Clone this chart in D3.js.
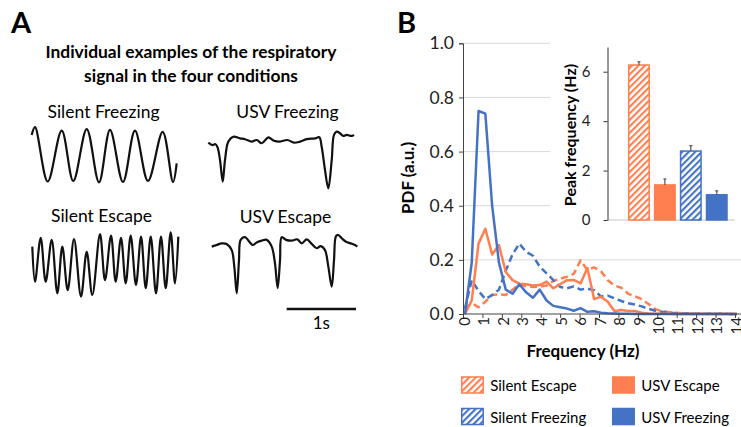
<!DOCTYPE html>
<html>
<head>
<meta charset="utf-8">
<script src="https://cdn.jsdelivr.net/npm/d3@7"></script>
<style>
body { margin: 0; background: #fff; }
svg { font-family: Lato, 'Open Sans', sans-serif; display: block; }
</style>
</head>
<body>
<div id="fig"></div>
<script>
// panel A: example respiratory traces, [time (s), amplitude (a.u.)]
const silentFreezingTrace = [[0,0.73],[0.048,1.02],[0.231,-0.99],[0.433,0.89],[0.6,-0.97],[0.794,0.95],[0.971,-1.02],[1.13,0.92],[1.317,-1.01],[1.49,0.89],[1.678,-0.97],[1.89,0.85],[2.039,-1.01],[2.092,-0.32]];
const usvFreezingTrace = [[0,-0.1],[0.063,-0.19],[0.097,-0.15],[0.13,-0.25],[0.169,-0.74],[0.208,-1.54],[0.241,-0.74],[0.289,-0.06],[0.361,0.12],[0.457,0.06],[0.53,0.03],[0.626,-0.06],[0.698,0],[0.771,-0.12],[0.866,0.1],[0.948,-0.03],[1.035,-0.06],[1.14,0],[1.237,-0.1],[1.323,-0.06],[1.42,0.03],[1.54,0.06],[1.602,0.1],[1.636,-0.25],[1.684,-1.11],[1.732,-1.79],[1.781,-0.74],[1.814,0.19],[1.853,0.31],[1.9,0.25],[1.948,0.15],[1.997,0.19],[2.069,0.15],[2.102,0.19]];
const silentEscapeTrace = [[0,0.68],[0.039,-0.62],[0.121,1.01],[0.193,-0.62],[0.28,0.93],[0.361,-1.05],[0.433,0.68],[0.511,-0.93],[0.602,0.96],[0.703,-1.17],[0.785,0.49],[0.866,-1.11],[0.977,1.14],[1.049,-0.56],[1.136,1.09],[1.203,-0.62],[1.28,1.01],[1.348,-0.68],[1.42,1.09],[1.496,-0.74],[1.569,1.05],[1.637,-0.86],[1.709,1.05],[1.785,-1.05],[1.857,1.05],[1.925,-0.86],[1.997,1.21],[2.059,-0.68],[2.107,1.05]];
const usvEscapeTrace = [[0,-0.06],[0.072,0],[0.144,0.06],[0.216,0.04],[0.289,-0.19],[0.326,-0.8],[0.361,-1.79],[0.394,-0.56],[0.418,0.19],[0.481,0.29],[0.543,0.12],[0.592,0],[0.649,0.09],[0.722,0.16],[0.794,0.19],[0.866,-0.06],[0.913,-0.68],[0.952,-1.6],[0.986,-0.56],[1.01,0.29],[1.072,0.19],[1.154,0.16],[1.235,0.21],[1.299,0.06],[1.371,0.21],[1.443,0.04],[1.515,-0.12],[1.573,-0.04],[1.635,-0.19],[1.683,-0.8],[1.732,-1.54],[1.765,-0.56],[1.794,0.33],[1.827,0.37],[1.876,0.25],[1.938,0.12],[2.006,0.06],[2.068,0],[2.101,-0.06]];

// panel B: PDF of respiratory frequency
const freqHz = [0.1,0.45,0.8,1.15,1.5,1.85,2.2,2.55,2.9,3.25,3.6,3.95,4.3,4.65,5.0,5.35,5.7,6.05,6.4,6.75,7.1,7.45,7.8,8.15,8.5,8.85,9.2,9.55,9.9,10.25,10.6,10.95,11.3,11.65,12.0,12.35,12.7,13.05,13.4,13.75,14.1];
const silentEscapePdf = [0.02,0.04,0.025,0.045,0.07,0.073,0.07,0.09,0.11,0.102,0.1,0.101,0.105,0.122,0.13,0.138,0.148,0.198,0.163,0.172,0.158,0.125,0.105,0.097,0.075,0.065,0.055,0.037,0.018,0.01,0.007,0.005,0.003,0.002,0.002,0.001,0.001,0.001,0.001,0,0];
const usvEscapePdf = [0,0.05,0.26,0.315,0.22,0.255,0.155,0.125,0.112,0.11,0.105,0.107,0.12,0.095,0.11,0.125,0.126,0.113,0.17,0.055,0.064,0.045,0.01,0.015,0.011,0.011,0.005,0.002,0.001,0.001,0.001,0,0,0,0,0,0,0,0,0,0];
const silentFreezingPdf = [0.02,0.125,0.085,0.055,0.07,0.09,0.16,0.22,0.26,0.23,0.215,0.175,0.15,0.125,0.1,0.095,0.102,0.09,0.094,0.088,0.065,0.068,0.058,0.048,0.04,0.035,0.028,0.019,0.012,0.008,0.005,0.003,0.002,0.002,0.001,0.001,0.001,0.001,0.001,0,0];
const usvFreezingPdf = [0,0.19,0.75,0.74,0.4,0.19,0.09,0.075,0.11,0.08,0.06,0.09,0.05,0.03,0.025,0.02,0.012,0.022,0.008,0.01,0.005,0.003,0.002,0.001,0.001,0,0,0,0,0,0,0,0,0,0,0,0,0,0,0,0];
const freqTicks = [0,1,2,3,4,5,6,7,8,9,10,11,12,13,14];
const pdfTicks = [0,0.2,0.4,0.6,0.8,1.0];

// inset: peak frequency per condition
const conditions = ['Silent Escape', 'USV Escape', 'Silent Freezing', 'USV Freezing'];
const peakFreq = [6.27, 1.42, 2.79, 1.02];
const peakSem = [0.13, 0.24, 0.22, 0.16];
const peakTicks = [0, 2, 4, 6];

const orange = '#FF7F50';
const blue = '#4472C4';
const condColor = [orange, orange, blue, blue];
const condHatch = [true, false, true, false];

const w = 741, h = 427;
const svg = d3.select('#fig').append('svg').attr('width', w).attr('height', h);

const defs = svg.append('defs');
[['hatchOrange', orange], ['hatchBlue', blue]].forEach(([id, c]) => {
    const p = defs.append('pattern').attr('id', id).attr('patternUnits', 'userSpaceOnUse')
        .attr('width', 4.6).attr('height', 4.6).attr('patternTransform', 'rotate(45)');
    p.append('rect').attr('width', 4.6).attr('height', 4.6).attr('fill', '#fff');
    p.append('rect').attr('width', 2.1).attr('height', 4.6).attr('fill', c);
});
const fillOf = i => condHatch[i] ? (condColor[i] === orange ? 'url(#hatchOrange)' : 'url(#hatchBlue)') : condColor[i];

// panel letters
svg.append('text').attr('x', 11).attr('y', 33).text('A').attr('font-size', 29).attr('font-weight', 'bold');
svg.append('text').attr('x', 397).attr('y', 33).text('B').attr('font-size', 29).attr('font-weight', 'bold');

// ---------- panel A ----------
svg.append('text').attr('x', 191).attr('y', 58).attr('text-anchor', 'middle')
    .attr('font-size', 17.4).attr('font-weight', 'bold').text('Individual examples of the respiratory');
svg.append('text').attr('x', 191).attr('y', 82).attr('text-anchor', 'middle')
    .attr('font-size', 17.4).attr('font-weight', 'bold').text('signal in the four conditions');

const pxPerSec = 69.3, pxPerAu = 27;
const traces = [
    { name: 'Silent Freezing', data: silentFreezingTrace, x0: 31.7, y0: 154.75, lx: 103.5, ly: 118 },
    { name: 'USV Freezing', data: usvFreezingTrace, x0: 208.3, y0: 140, lx: 287.5, ly: 118 },
    { name: 'Silent Escape', data: silentEscapeTrace, x0: 32.3, y0: 265, lx: 101.5, ly: 222 },
    { name: 'USV Escape', data: usvEscapeTrace, x0: 211.7, y0: 245, lx: 285.5, ly: 223 }
];
traces.forEach(tr => {
    const tx = d3.scaleLinear().domain([0, 1]).range([tr.x0, tr.x0 + pxPerSec]);
    const ty = d3.scaleLinear().domain([0, 1]).range([tr.y0, tr.y0 - pxPerAu]);
    svg.append('path').datum(tr.data)
        .attr('d', d3.line().x(d => tx(d[0])).y(d => ty(d[1])).curve(d3.curveCatmullRom.alpha(0.5)))
        .attr('fill', 'none').attr('stroke', '#111').attr('stroke-width', 2.2).attr('stroke-linejoin', 'round');
    svg.append('text').attr('x', tr.lx).attr('y', tr.ly).attr('text-anchor', 'middle')
        .attr('font-size', 17.5).text(tr.name);
});

// 1 s scale bar
const barScale = d3.scaleLinear().domain([0, 1]).range([286.7, 286.7 + pxPerSec]);
svg.append('line').attr('x1', barScale(0)).attr('x2', barScale(1)).attr('y1', 309).attr('y2', 309)
    .attr('stroke', '#111').attr('stroke-width', 2.4);
svg.append('text').attr('x', barScale(0.5)).attr('y', 329).attr('text-anchor', 'middle')
    .attr('font-size', 17).text('1s');

// ---------- panel B ----------
const x = d3.scaleLinear().domain([0, 14]).range([463, 735]);
const y = d3.scaleLinear().domain([0, 1]).range([314, 43.3]);

svg.append('g').selectAll('line').data(pdfTicks.filter(d => d > 0)).enter().append('line')
    .attr('x1', 463).attr('x2', w).attr('y1', d => y(d)).attr('y2', d => y(d))
    .attr('stroke', '#d9d9d9').attr('stroke-width', 1);

const series = [
    { values: silentEscapePdf, color: orange, dash: '7,4' },
    { values: silentFreezingPdf, color: blue, dash: '7,4' },
    { values: usvEscapePdf, color: orange, dash: null },
    { values: usvFreezingPdf, color: blue, dash: null }
];
const pdfLine = d3.line().x((d, i) => x(freqHz[i])).y(d => y(d));
series.forEach(s => {
    svg.append('path').datum(s.values).attr('d', pdfLine)
        .attr('fill', 'none').attr('stroke', s.color).attr('stroke-width', 2.5)
        .attr('stroke-dasharray', s.dash).attr('stroke-linejoin', 'round');
});

const yAxis = svg.append('g').attr('transform', 'translate(463,0)')
    .call(d3.axisLeft(y).tickValues(pdfTicks).tickFormat(d3.format('.1f')).tickSize(4).tickPadding(5));
yAxis.selectAll('text').attr('font-size', 17.5).attr('fill', '#222').attr('font-family', 'Lato, sans-serif');
yAxis.selectAll('line, path').attr('stroke', '#444');

const xAxis = svg.append('g').attr('transform', 'translate(0,314)')
    .call(d3.axisBottom(x).tickValues(freqTicks).tickSize(4));
xAxis.select('path').attr('d', `M463,0H${w}`).attr('stroke', '#444');
xAxis.selectAll('line').attr('stroke', '#444');
xAxis.selectAll('text').attr('font-size', 15).attr('fill', '#222').attr('font-family', 'Lato, sans-serif')
    .attr('text-anchor', 'end').attr('transform', 'translate(1,3) rotate(-90)')
    .attr('x', 0).attr('y', 0).attr('dy', '0.35em');

svg.append('text').attr('transform', 'translate(414,178) rotate(-90)').attr('text-anchor', 'middle')
    .attr('font-size', 17).attr('font-weight', 'bold').text('PDF (a.u.)');
svg.append('text').attr('x', 583).attr('y', 357).attr('text-anchor', 'middle')
    .attr('font-size', 17).attr('font-weight', 'bold').text('Frequency (Hz)');

// inset
svg.append('rect').attr('x', 550).attr('y', 36).attr('width', w - 550).attr('height', 188).attr('fill', '#fff');
const ix = d3.scaleBand().domain(conditions).range([628.7, 727]).paddingInner(0.21).paddingOuter(0);
const iy = d3.scaleLinear().domain([0, 7]).range([220, 47]);

svg.append('line').attr('x1', 607.5).attr('x2', 735).attr('y1', iy(0)).attr('y2', iy(0))
    .attr('stroke', '#d9d9d9').attr('stroke-width', 1.5);
svg.append('g').selectAll('rect').data(conditions).enter().append('rect')
    .attr('x', d => ix(d)).attr('width', ix.bandwidth())
    .attr('y', (d, i) => iy(peakFreq[i])).attr('height', (d, i) => iy(0) - iy(peakFreq[i]))
    .attr('fill', (d, i) => fillOf(i)).attr('stroke', (d, i) => condColor[i]).attr('stroke-width', 1.5);
const err = svg.append('g').selectAll('g').data(conditions).enter().append('g');
err.append('line').attr('x1', d => ix(d) + ix.bandwidth() / 2).attr('x2', d => ix(d) + ix.bandwidth() / 2)
    .attr('y1', (d, i) => iy(peakFreq[i])).attr('y2', (d, i) => iy(peakFreq[i] + peakSem[i]))
    .attr('stroke', '#555').attr('stroke-width', 1.2);
err.append('line').attr('x1', d => ix(d) + ix.bandwidth() / 2 - 1.5).attr('x2', d => ix(d) + ix.bandwidth() / 2 + 1.5)
    .attr('y1', (d, i) => iy(peakFreq[i] + peakSem[i])).attr('y2', (d, i) => iy(peakFreq[i] + peakSem[i]))
    .attr('stroke', '#555').attr('stroke-width', 1.2);

const iyAxis = svg.append('g').attr('transform', 'translate(607.5,0)')
    .call(d3.axisLeft(iy).tickValues(peakTicks).tickFormat(d3.format('d')).tickSize(4).tickPadding(13).tickSizeOuter(0));
iyAxis.selectAll('text').attr('font-size', 15).attr('fill', '#222').attr('font-family', 'Lato, sans-serif');
iyAxis.selectAll('line, path').attr('stroke', '#333');
svg.append('text').attr('transform', 'translate(576,135) rotate(-90)').attr('text-anchor', 'middle')
    .attr('font-size', 16).attr('font-weight', 'bold').text('Peak frequency (Hz)');

// legend
const lg = svg.append('g').selectAll('g').data(conditions).enter().append('g')
    .attr('transform', (d, i) => `translate(${i % 2 ? 612.7 : 461.7},${i < 2 ? 377 : 408.5})`);
lg.append('rect').attr('width', 21.5).attr('height', 16)
    .attr('fill', (d, i) => fillOf(i)).attr('stroke', (d, i) => condColor[i]).attr('stroke-width', 1.5);
lg.append('text').attr('x', 28.5).attr('y', 14).attr('font-size', 15).text(d => d);
</script>
</body>
</html>
